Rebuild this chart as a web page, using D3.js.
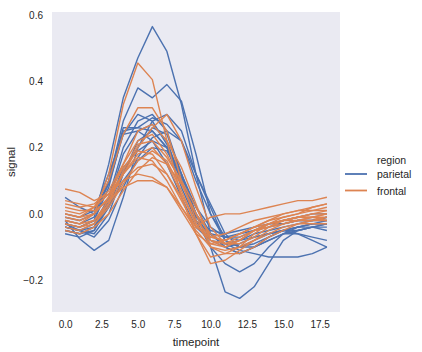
<!DOCTYPE html>
<html>
<head>
<meta charset="utf-8">
<script src="https://cdn.jsdelivr.net/npm/d3@7"></script>
<style>
  body { margin: 0; background: #fff; }
  text { font-family: "Liberation Sans", Arial, sans-serif; fill: #262626; }
</style>
</head>
<body>
<div id="viz"></div>
<script>
// fmri, event == "stim", one line per subject
var timepoints = d3.range(0, 19);
var regions = ["parietal", "frontal"];
var xTicks = [0, 2.5, 5, 7.5, 10, 12.5, 15, 17.5];
var yTicks = [-0.2, 0, 0.2, 0.4, 0.6];

var parietal = [
  [-0.02,-0.03,-0.01,0.15,0.35,0.47,0.565,0.49,0.33,0.12,-0.06,-0.10,-0.12,-0.10,-0.08,-0.06,-0.05,-0.04,-0.04],
  [-0.03,-0.04,-0.02,0.10,0.28,0.38,0.35,0.39,0.34,0.18,0.00,-0.08,-0.10,-0.09,-0.07,-0.05,-0.05,-0.04,-0.03],
  [-0.04,-0.05,-0.03,0.05,0.20,0.28,0.30,0.25,0.12,0.00,-0.10,-0.235,-0.255,-0.22,-0.15,-0.08,-0.05,-0.04,-0.03],
  [-0.05,-0.06,-0.04,0.04,0.18,0.25,0.27,0.22,0.10,-0.02,-0.10,-0.15,-0.175,-0.15,-0.10,-0.06,-0.04,-0.03,-0.03],
  [-0.02,-0.075,-0.11,-0.08,0.05,0.20,0.26,0.24,0.12,0.00,-0.08,-0.10,-0.09,-0.07,-0.06,-0.05,-0.04,-0.03,-0.02],
  [0.05,0.02,0.00,0.10,0.26,0.26,0.25,0.20,0.08,-0.02,-0.06,-0.07,-0.06,-0.05,-0.04,-0.03,-0.02,-0.02,-0.01],
  [-0.04,-0.05,-0.06,0.00,0.12,0.22,0.25,0.20,0.10,0.00,-0.06,-0.09,-0.11,-0.12,-0.13,-0.13,-0.13,-0.12,-0.10],
  [-0.03,-0.04,-0.02,0.08,0.25,0.26,0.29,0.27,0.22,0.10,0.00,-0.07,-0.07,-0.05,-0.03,-0.02,-0.01,0.00,0.00],
  [-0.06,-0.07,-0.05,0.02,0.13,0.20,0.28,0.30,0.25,0.12,0.02,-0.08,-0.10,-0.08,-0.06,-0.05,-0.04,-0.04,-0.05],
  [-0.01,-0.02,0.00,0.09,0.24,0.25,0.22,0.15,0.05,-0.04,-0.08,-0.09,-0.08,-0.06,-0.05,-0.04,-0.03,-0.02,-0.02],
  [-0.05,-0.06,-0.05,0.03,0.14,0.19,0.22,0.20,0.12,0.02,-0.06,-0.10,-0.12,-0.10,-0.08,-0.06,-0.06,-0.07,-0.08],
  [0.00,-0.01,0.01,0.12,0.24,0.30,0.28,0.21,0.10,-0.01,-0.05,-0.06,-0.05,-0.04,-0.03,-0.03,-0.02,-0.02,-0.01],
  [-0.04,-0.05,-0.07,-0.02,0.08,0.17,0.23,0.25,0.22,0.12,0.03,-0.06,-0.10,-0.10,-0.07,-0.05,-0.04,-0.03,-0.03],
  [-0.03,-0.05,-0.04,0.02,0.10,0.16,0.20,0.19,0.11,0.02,-0.04,-0.07,-0.08,-0.07,-0.06,-0.05,-0.06,-0.08,-0.10]
];

var frontal = [
  [-0.02,-0.03,0.00,0.12,0.33,0.455,0.405,0.22,0.05,-0.06,-0.09,-0.08,-0.06,-0.04,-0.03,-0.02,-0.01,-0.01,0.00],
  [0.00,-0.01,0.02,0.10,0.24,0.32,0.32,0.25,0.10,-0.02,-0.07,-0.08,-0.06,-0.04,-0.02,0.00,0.01,0.01,0.02],
  [-0.03,-0.04,-0.02,0.04,0.12,0.20,0.26,0.30,0.22,0.08,-0.04,-0.09,-0.08,-0.05,-0.03,-0.02,-0.01,0.00,0.00],
  [0.075,0.065,0.04,0.06,0.12,0.18,0.20,0.15,0.06,-0.03,-0.08,-0.09,-0.07,-0.05,-0.03,-0.02,-0.02,-0.01,-0.01],
  [-0.01,-0.02,0.00,0.05,0.12,0.17,0.16,0.10,0.02,-0.04,-0.01,0.00,0.00,0.01,0.02,0.03,0.04,0.04,0.05],
  [0.03,0.02,0.03,0.07,0.15,0.22,0.24,0.18,0.09,0.00,-0.10,-0.12,-0.10,-0.06,-0.03,-0.01,0.00,0.01,0.01],
  [-0.04,-0.05,-0.03,0.03,0.10,0.14,0.15,0.12,0.05,-0.06,-0.15,-0.14,-0.11,-0.08,-0.05,-0.03,-0.02,-0.02,-0.02],
  [0.02,0.01,0.01,0.04,0.08,0.10,0.10,0.08,0.02,-0.05,-0.10,-0.11,-0.10,-0.08,-0.06,-0.04,-0.03,-0.02,-0.01],
  [-0.02,-0.03,-0.02,0.03,0.13,0.21,0.22,0.17,0.10,0.02,-0.07,-0.08,-0.06,-0.04,-0.02,-0.01,0.00,0.02,0.03],
  [0.00,-0.01,0.00,0.05,0.15,0.25,0.27,0.22,0.14,0.03,-0.08,-0.10,-0.08,-0.05,-0.04,-0.03,-0.02,-0.01,0.00],
  [-0.05,-0.06,-0.04,0.00,0.07,0.13,0.17,0.15,0.09,0.00,-0.06,-0.09,-0.09,-0.07,-0.04,-0.02,-0.01,-0.01,-0.02],
  [0.01,0.00,0.02,0.06,0.10,0.12,0.11,0.08,0.01,-0.06,-0.13,-0.12,-0.12,-0.10,-0.07,-0.05,-0.03,-0.03,-0.03],
  [-0.03,-0.04,-0.03,0.02,0.09,0.16,0.19,0.16,0.07,-0.03,-0.09,-0.10,-0.08,-0.05,-0.04,-0.02,-0.01,0.00,0.01],
  [0.04,0.03,0.02,0.06,0.14,0.19,0.18,0.12,0.04,-0.04,-0.07,-0.06,-0.04,-0.02,-0.01,0.00,0.01,0.02,0.03]
];

var colors = { parietal: "#4c72b0", frontal: "#dd8452" };

var W = 422, H = 352;
var plotLeft = 52, plotRight = 340, plotTop = 12, plotBottom = 312;

var svg = d3.select("#viz").append("svg")
    .attr("width", W)
    .attr("height", H);

var x = d3.scaleLinear().domain([-0.9, 18.9]).range([plotLeft, plotRight]);
var y = d3.scaleLinear().domain([-0.296, 0.609]).range([plotBottom, plotTop]);

svg.append("rect")
    .attr("x", plotLeft).attr("y", plotTop)
    .attr("width", plotRight - plotLeft).attr("height", plotBottom - plotTop)
    .attr("fill", "#eaeaf2");

var line = d3.line()
    .x(function(d, i) { return x(timepoints[i]); })
    .y(function(d) { return y(d); });

var groups = [
  { region: "parietal", lines: parietal },
  { region: "frontal", lines: frontal }
];

groups.forEach(function(g) {
  svg.append("g").selectAll("path")
    .data(g.lines)
    .enter()
    .append("path")
    .attr("d", line)
    .attr("fill", "none")
    .attr("stroke", colors[g.region])
    .attr("stroke-width", 1.4)
    .attr("stroke-linejoin", "round");
});

var fmt = function(d) { return d3.format(".1f")(d).replace("-", "\u2212"); };

var xAxis = svg.append("g")
    .attr("transform", "translate(0," + plotBottom + ")")
    .call(d3.axisBottom(x).tickValues(xTicks).tickSize(0).tickPadding(9).tickFormat(fmt));
var yAxis = svg.append("g")
    .attr("transform", "translate(" + plotLeft + ",0)")
    .call(d3.axisLeft(y).tickValues(yTicks).tickSize(0).tickPadding(9).tickFormat(fmt));

[xAxis, yAxis].forEach(function(a) {
  a.select(".domain").remove();
  a.selectAll("text").style("font-size", "10px").attr("fill", "#262626");
});

svg.append("text")
    .attr("x", (plotLeft + plotRight) / 2).attr("y", 346)
    .attr("text-anchor", "middle")
    .style("font-size", "11.5px")
    .text("timepoint");

svg.append("text")
    .attr("transform", "translate(15," + (plotTop + plotBottom) / 2 + ") rotate(-90)")
    .attr("text-anchor", "middle")
    .style("font-size", "11.5px")
    .text("signal");

var legend = svg.append("g");
legend.append("text")
    .attr("x", 377).attr("y", 164)
    .style("font-size", "10.5px")
    .text("region");

legend.selectAll("g.item")
    .data(regions)
    .enter()
    .append("g")
    .attr("class", "item")
    .each(function(d, i) {
      var g = d3.select(this);
      var yy = 174 + i * 16.5;
      g.append("line")
        .attr("x1", 345).attr("x2", 367)
        .attr("y1", yy).attr("y2", yy)
        .attr("stroke", colors[d]).attr("stroke-width", 1.8);
      g.append("text")
        .attr("x", 377).attr("y", yy + 4)
        .style("font-size", "10.5px")
        .text(d);
    });
</script>
</body>
</html>
